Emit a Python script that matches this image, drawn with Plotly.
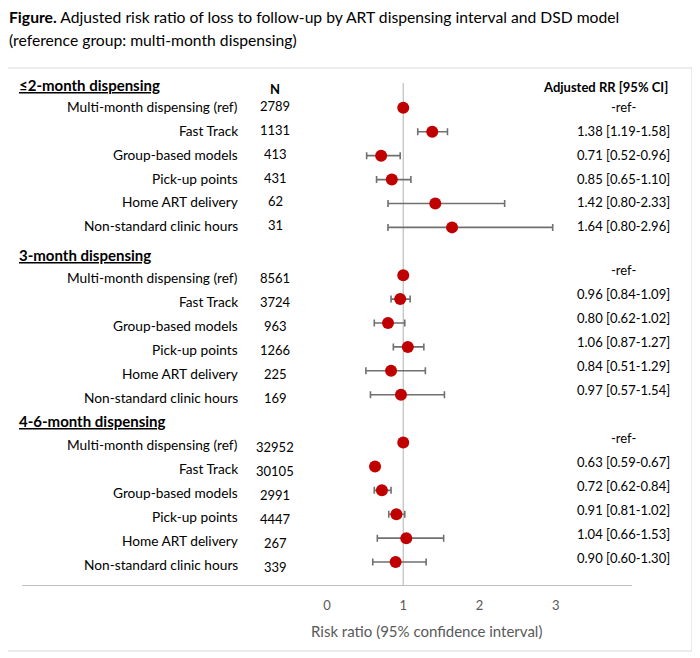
import plotly.graph_objects as go

# ---------------- data ----------------
sections = ["≤2-month dispensing", "3-month dispensing", "4-6-month dispensing"]
models = ["Multi-month dispensing (ref)", "Fast Track", "Group-based models",
          "Pick-up points", "Home ART delivery", "Non-standard clinic hours"]
n_2m = [2789, 1131, 413, 431, 62, 31]
n_3m = [8561, 3724, 963, 1266, 225, 169]
n_46m = [32952, 30105, 2991, 4447, 267, 339]
rr_2m = [1.00, 1.38, 0.71, 0.85, 1.42, 1.64]
rr_3m = [1.00, 0.96, 0.80, 1.06, 0.84, 0.97]
rr_46m = [1.00, 0.63, 0.72, 0.91, 1.04, 0.90]
lo_2m = [1.00, 1.19, 0.52, 0.65, 0.80, 0.80]
lo_3m = [1.00, 0.84, 0.62, 0.87, 0.51, 0.57]
lo_46m = [1.00, 0.59, 0.62, 0.81, 0.66, 0.60]
hi_2m = [1.00, 1.58, 0.96, 1.10, 2.33, 2.96]
hi_3m = [1.00, 1.09, 1.02, 1.27, 1.29, 1.54]
hi_46m = [1.00, 0.67, 0.84, 1.02, 1.53, 1.30]
x_ticks = [0, 1, 2, 3]

N = [n_2m, n_3m, n_46m]
RR = [rr_2m, rr_3m, rr_46m]
LO = [lo_2m, lo_3m, lo_46m]
HI = [hi_2m, hi_3m, hi_46m]

# ---------------- layout geometry (pixels, page coords) ----------------
W, H = 700, 658
OFF = 8  # page body margin
L, R, T, B = 22 - OFF, 632 - OFF, 83 - OFF, 585 - OFF
FONT = "Lato"
TXT = "#000000"
GRAY = "#595959"


def px(x):
    return (x - OFF - L) / (R - L)


def py(y):
    return (B - (y - OFF)) / (B - T)


# per-section vertical nudges (pixels, positive = down)
off_label = [-1.5, 2.5, 2]
off_n = [-2, 3, 4.5]
off_right = [-1, -5, -4.5]
off_head = [1, 4, 2]

fig = go.Figure()

ys, xs, em, ep = [], [], [], []
ann = []
for s in range(3):
    head_row = 7 * s
    ann.append(dict(xref="paper", yref="y", x=px(17), y=head_row, yshift=-off_head[s],
                    text="<b><u>%s</u></b>" % sections[s], xanchor="left", yanchor="middle",
                    showarrow=False, font=dict(family=FONT, size=15, color=TXT)))
    for k in range(6):
        row = head_row + 1 + k
        ys.append(row)
        xs.append(RR[s][k])
        ep.append(HI[s][k] - RR[s][k])
        em.append(RR[s][k] - LO[s][k])
        ann.append(dict(xref="paper", yref="y", x=px(240), y=row, yshift=-off_label[s],
                        text=models[k], xanchor="right", yanchor="middle", showarrow=False,
                        font=dict(family=FONT, size=13.7, color=TXT)))
        ann.append(dict(xref="paper", yref="y", x=px(275), y=row, yshift=-off_n[s],
                        text=str(N[s][k]), xanchor="center", yanchor="middle", showarrow=False,
                        font=dict(family=FONT, size=13, color=TXT)))
        if k == 0:
            rt = "-ref-"
        else:
            rt = "%.2f [%.2f-%.2f]" % (RR[s][k], LO[s][k], HI[s][k])
        ann.append(dict(xref="paper", yref="y", x=px(623), y=row, yshift=-off_right[s],
                        text=rt, xanchor="center", yanchor="middle", showarrow=False,
                        font=dict(family=FONT, size=13, color=TXT)))

# column headers
ann.append(dict(xref="paper", yref="paper", x=px(275), y=py(89), text="<b>N</b>",
                xanchor="center", yanchor="middle", showarrow=False,
                font=dict(family=FONT, size=13, color=TXT)))
ann.append(dict(xref="paper", yref="paper", x=px(605), y=py(87), text="<b>Adjusted RR [95% CI]</b>",
                xanchor="center", yanchor="middle", showarrow=False,
                font=dict(family=FONT, size=13, color=TXT)))
# title
ann.append(dict(xref="paper", yref="paper", x=px(7), y=py(17),
                text="<b>Figure.</b> Adjusted risk ratio of loss to follow-up by ART dispensing interval and DSD model",
                xanchor="left", yanchor="middle", showarrow=False,
                font=dict(family=FONT, size=15.7, color=TXT)))
ann.append(dict(xref="paper", yref="paper", x=px(7), y=py(40),
                text="(reference group: multi-month dispensing)",
                xanchor="left", yanchor="middle", showarrow=False,
                font=dict(family=FONT, size=15.7, color=TXT)))
# x-axis title
ann.append(dict(xref="paper", yref="paper", x=px(426), y=py(631),
                text="Risk ratio (95% confidence interval)",
                xanchor="center", yanchor="middle", showarrow=False,
                font=dict(family=FONT, size=15, color=GRAY)))

fig.add_trace(go.Scatter(
    x=xs, y=ys, mode="markers",
    marker=dict(size=12, color="#C00000"),
    error_x=dict(type="data", symmetric=False, array=ep, arrayminus=em,
                 color="#707070", thickness=1.6, width=3.5),
    showlegend=False, hoverinfo="skip", cliponaxis=False,
))

shapes = [
    dict(type="rect", xref="paper", yref="paper", x0=px(7), x1=px(692), y0=py(651), y1=py(68),
         line=dict(color="#d9d9d9", width=1), fillcolor="rgba(0,0,0,0)", layer="below"),
    dict(type="line", xref="x", yref="paper", x0=1, x1=1, y0=0, y1=1,
         line=dict(color="#bfbfbf", width=1.2), layer="below"),
]

fig.update_layout(
    width=W, height=H,
    margin=dict(l=L, r=W - R, t=T, b=H - B, pad=0),
    paper_bgcolor="white", plot_bgcolor="white",
    annotations=ann, shapes=shapes,
    xaxis=dict(range=[-4, 4], tickvals=x_ticks, ticktext=[str(t) for t in x_ticks],
               showgrid=False, zeroline=False, showline=True, linecolor="#bfbfbf", linewidth=1.2,
               ticks="", ticklabelstandoff=8,
               tickfont=dict(family=FONT, size=13, color=GRAY), fixedrange=True),
    yaxis=dict(range=[20.96, -0.04], showgrid=False, zeroline=False, showline=False,
               showticklabels=False, ticks="", fixedrange=True),
    showlegend=False,
)

fig.write_html("out.html")
